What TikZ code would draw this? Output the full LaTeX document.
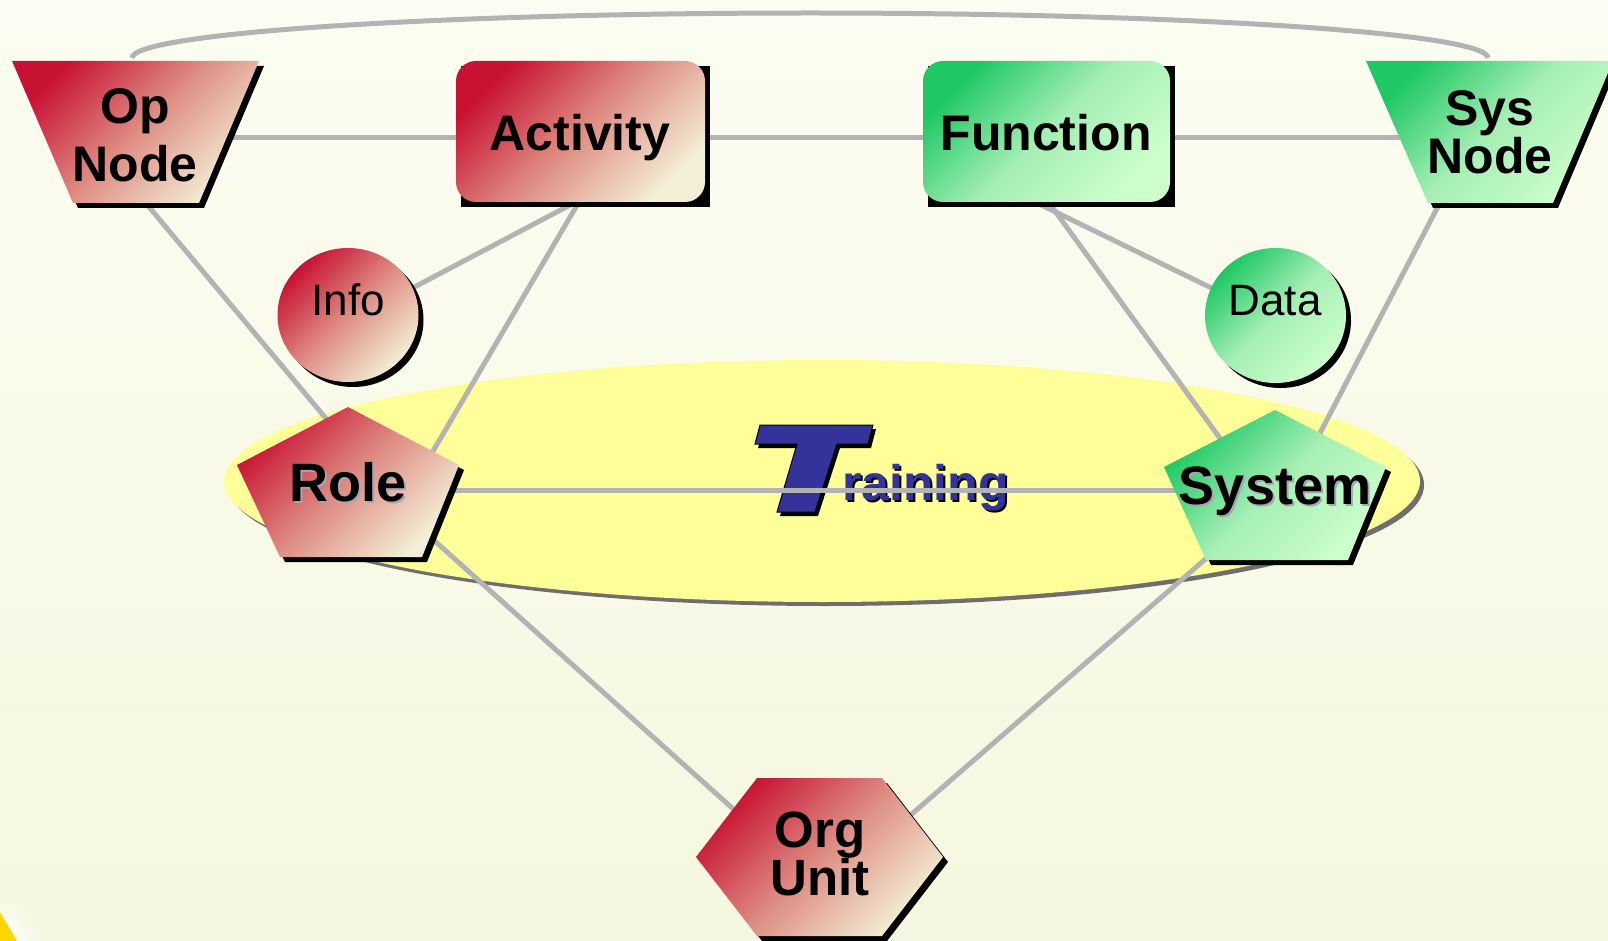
\documentclass[tikz,border=0pt]{standalone}
\usepackage{fontspec}
\setmainfont{Liberation Sans}
\usetikzlibrary{calc}
\definecolor{bgtop}{RGB}{252,253,242}
\definecolor{bgbot}{RGB}{245,247,224}
\definecolor{redA}{RGB}{200,18,52}
\definecolor{redB}{RGB}{222,140,130}
\definecolor{redC}{RGB}{243,238,214}
\definecolor{grnA}{RGB}{30,200,100}
\definecolor{grnB}{RGB}{165,238,180}
\definecolor{grnC}{RGB}{204,255,204}
\definecolor{linkgray}{RGB}{179,179,179}
\definecolor{ellfill}{RGB}{255,255,153}
\definecolor{ellshadow}{RGB}{110,110,110}
\definecolor{tblue}{RGB}{51,51,153}
\definecolor{txtshadow}{RGB}{165,165,180}
\definecolor{cornery}{RGB}{255,214,0}
\pgfdeclarelayer{bg}
\pgfdeclarelayer{lines}
\pgfdeclarelayer{shapes}
\pgfsetlayers{bg,lines,shapes,main}
\tikzset{
  redfill/.style={top color=redA, bottom color=redC, middle color=redB, shading angle=45},
  grnfill/.style={top color=grnA, bottom color=grnC, middle color=grnB, shading angle=45},
  link/.style={draw=linkgray, line width=5pt},
  lbl/.style={inner sep=0pt, align=center, font=\fontsize{50}{58}\selectfont\bfseries, text height=36pt, text depth=0pt},
  lbltwo/.style={inner sep=0pt, align=center},
  small/.style={inner sep=0pt, font=\fontsize{44}{50}\selectfont, text height=31.7pt, text depth=0pt},
  big/.style={inner sep=0pt, font=\fontsize{54}{60}\selectfont\bfseries, text height=38.9pt, text depth=0pt},
}
\newcommand\shadowedshape[2]{\fill[black,shift={(5,5)}] #2; \shade[#1] #2;}
\begin{document}
\begin{tikzpicture}[x=1pt,y=-1pt]
\useasboundingbox (0,0) rectangle (1608,941);
% background
\begin{pgfonlayer}{bg}
\shade[top color=bgtop,bottom color=bgbot] (0,0) rectangle (1608,941);
\shade[inner color=white, outer color=bgbot] (0,941) circle (45);
\fill[cornery] (0,912) -- (17,941) -- (0,941) -- cycle;
\fill[ellshadow] (826,485) ellipse [x radius=598, y radius=121];
\fill[ellfill] (822,481) ellipse [x radius=598, y radius=121];
% Training logo
\fill[black,shift={(3,4)}] (760,425) -- (873,425) -- (868,444) -- (837,444) -- (815,512) -- (777,512) -- (797,444) -- (755,444) -- cycle;
\filldraw[fill=tblue,draw=black,line width=1pt] (760,425) -- (873,425) -- (868,444) -- (837,444) -- (815,512) -- (777,512) -- (797,444) -- (755,444) -- cycle;
\node[anchor=base west, inner sep=0pt, font=\fontsize{50}{56}\selectfont\bfseries, text=black] (rainsh) at (844,502) {raining};
\node[anchor=base west, inner sep=0pt, font=\fontsize{50}{56}\selectfont\bfseries, text=tblue] (rain) at (842,500) {raining};
\end{pgfonlayer}
% shapes
\begin{pgfonlayer}{shapes}
\shadowedshape{redfill}{(12,61)--(259,61)--(199,203)--(73,203)--cycle}
\shadowedshape{grnfill}{(1366,61)--(1613,61)--(1553,203)--(1428,203)--cycle}
\shadowedshape{redfill,rounded corners=20pt}{(456,61) rectangle (705,202)}
\shadowedshape{grnfill,rounded corners=20pt}{(923,61) rectangle (1170,202)}
\shadowedshape{redfill}{(348,315) ellipse [x radius=70.5, y radius=67]}
\shadowedshape{grnfill}{(1275.5,315.5) ellipse [x radius=70.5, y radius=67.5]}
\shadowedshape{redfill}{(348,407)--(459,465)--(422,557)--(280,557)--(237,465)--cycle}
\shadowedshape{grnfill}{(1275,410)--(1386,467)--(1348,560)--(1206,560)--(1164,467)--cycle}
\shadowedshape{redfill}{(757,778)--(882,778)--(943,857)--(882,936)--(757,936)--(696,857)--cycle}
\end{pgfonlayer}
% labels
\node[lbltwo, font=\fontsize{50}{58}\selectfont\bfseries] (op) at (135,135) {Op\\Node};
\node[lbl] (act) at (580,133) {Activity};
\node[lbl] (fun) at (1046,133) {Function};
\node[lbltwo, font=\fontsize{50}{48}\selectfont\bfseries] (sys) at (1490,132) {Sys\\Node};
\node[small] (info) at (348,300) {Info};
\node[small] (data) at (1275,300) {Data};
\node[big, text=txtshadow] (rolesh) at (350,484) {Role};
\node[big] (role) at (348,482) {Role};
\node[big, text=txtshadow] (systsh) at (1277,487) {System};
\node[big] (syst) at (1275,485) {System};
\node[lbltwo, font=\fontsize{51}{48}\selectfont\bfseries] (org) at (820,854) {Org\\Unit};
% connectors
\begin{pgfonlayer}{lines}
\draw[link] ($(op)+(0,3)$) -- ($(act)+(0,5)$);
\draw[link] ($(act)+(0,5)$) -- ($(fun)+(0,5)$);
\draw[link] ($(fun)+(0,5)$) -- ($(sys)+(0,6)$);
\draw[link] ($(op)+(-3,-77)$) arc[start angle=180, end angle=360, x radius=678, y radius=45];
\draw[link] ($(op)+(4,60)$) -- ($(role)+(-4,-42)$);
\draw[link] ($(act)+(-8,71)$) -- ($(info)+(0,22)$);
\draw[link] ($(act)+(0,67)$) -- ($(role)+(74,-12)$);
\draw[link] ($(fun)+(-15,67)$) -- ($(data)+(0,19)$);
\draw[link] ($(fun)+(1,67)$) -- ($(syst)+(-32,-15)$);
\draw[link] ($(sys)+(-46,63)$) -- ($(syst)+(31,-25)$);
\draw[link] ($(role)+(0,8)$) -- ($(syst)+(0,5)$);
\draw[link] ($(role)+(50,26)$) -- ($(org)+(-40,-3)$);
\draw[link] ($(syst)+(-35,44)$) -- ($(org)+(40,5)$);
\end{pgfonlayer}
\end{tikzpicture}
\end{document}
